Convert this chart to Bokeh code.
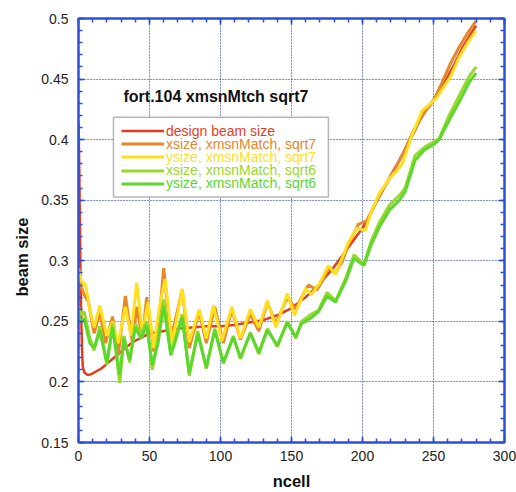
from bokeh.plotting import figure
from bokeh.models import (Range1d, LinearAxis, Legend, LegendItem, Label, BoxAnnotation, Title,
                          SingleIntervalTicker, Grid, NumeralTickFormatter, CustomJSTickFormatter)
from bokeh.embed import file_html
from bokeh.resources import INLINE

FONT = "Liberation Sans"
AX = "#2b4fd6"

# ---- data ----
design_n = [0, 0.5, 1, 1.5, 2, 2.5, 3, 4, 6, 8, 10, 13, 16, 20, 25, 30, 35, 40, 45, 50, 60, 70, 80,
            90, 100, 110, 120, 130, 140, 150, 160, 170, 180, 190, 200, 205, 210, 215, 220, 225, 230,
            235, 240, 245, 250, 255, 260, 265, 270, 275, 280]
design_v = [0.415, 0.38, 0.33, 0.28, 0.25, 0.226, 0.213, 0.208, 0.206, 0.206, 0.207, 0.209, 0.211,
            0.215, 0.22, 0.225, 0.23, 0.234, 0.237, 0.24, 0.242, 0.244, 0.245, 0.246, 0.246, 0.247,
            0.249, 0.251, 0.255, 0.261, 0.27, 0.281, 0.295, 0.311, 0.327, 0.337, 0.349, 0.36, 0.371,
            0.381, 0.392, 0.403, 0.415, 0.425, 0.433, 0.442, 0.452, 0.463, 0.475, 0.485, 0.494]

xs7_n = [0, 1, 2, 4, 7, 11, 15, 19, 24, 28, 33, 38, 41, 45, 48, 53, 56, 60, 65, 68, 73, 78, 85, 90,
         96, 102, 108, 114, 121, 127, 133, 139, 147, 153, 158, 162, 168, 172, 176, 181, 186, 190,
         197, 203, 210, 216, 222, 228, 235, 242, 250, 256, 262, 268, 274, 280]
xs7_v = [0.29, 0.285, 0.278, 0.272, 0.266, 0.24, 0.258, 0.232, 0.254, 0.222, 0.271, 0.232, 0.262,
         0.236, 0.27, 0.225, 0.24, 0.294, 0.236, 0.25, 0.276, 0.228, 0.258, 0.232, 0.262, 0.232,
         0.26, 0.235, 0.256, 0.242, 0.266, 0.248, 0.27, 0.26, 0.272, 0.28, 0.276, 0.284, 0.294,
         0.29, 0.3, 0.313, 0.33, 0.333, 0.35, 0.362, 0.374, 0.387, 0.405, 0.42, 0.432, 0.447,
         0.463, 0.476, 0.488, 0.498]

ys7_n = [0, 2, 5, 8, 11, 15, 20, 24, 28, 33, 37, 41, 45, 49, 53, 57, 61, 66, 73, 78, 85, 90, 95,
         101, 108, 114, 121, 127, 133, 139, 147, 152, 160, 164, 170, 176, 181, 190, 196, 202, 206,
         212, 219, 224, 228, 235, 242, 248, 252, 258, 262, 268, 274, 280]
ys7_v = [0.294, 0.283, 0.28, 0.26, 0.245, 0.263, 0.238, 0.25, 0.232, 0.262, 0.238, 0.282, 0.24,
         0.266, 0.228, 0.262, 0.285, 0.232, 0.277, 0.233, 0.26, 0.236, 0.263, 0.234, 0.262, 0.236,
         0.26, 0.245, 0.267, 0.245, 0.273, 0.255, 0.277, 0.272, 0.282, 0.296, 0.289, 0.315, 0.327,
         0.325, 0.34, 0.356, 0.368, 0.374, 0.38, 0.404, 0.424, 0.43, 0.434, 0.445, 0.452, 0.468,
         0.48, 0.49]

xs6_n = [0, 2, 4, 8, 11, 15, 20, 24, 29, 32, 36, 40, 44, 48, 52, 56, 60, 65, 68, 73, 78, 84, 90,
         96, 102, 109, 114, 121, 127, 133, 140, 147, 153, 157, 164, 169, 175, 181, 188, 194, 201,
         206, 212, 219, 226, 230, 237, 244, 250, 254, 261, 268, 275, 280]
xs6_v = [0.262, 0.255, 0.258, 0.236, 0.226, 0.246, 0.214, 0.248, 0.199, 0.238, 0.216, 0.248, 0.24,
         0.25, 0.21, 0.235, 0.268, 0.224, 0.235, 0.256, 0.205, 0.242, 0.211, 0.244, 0.215, 0.238,
         0.219, 0.241, 0.223, 0.244, 0.229, 0.25, 0.236, 0.25, 0.256, 0.259, 0.274, 0.267, 0.285,
         0.305, 0.297, 0.316, 0.332, 0.346, 0.354, 0.36, 0.387, 0.394, 0.398, 0.401, 0.42, 0.436,
         0.452, 0.46]

ys6_n = [0, 2, 4, 8, 11, 15, 20, 24, 29, 32, 36, 40, 44, 48, 52, 56, 60, 65, 68, 73, 78, 84, 90,
         96, 102, 109, 114, 121, 127, 133, 140, 147, 153, 157, 164, 169, 175, 181, 188, 194, 201,
         206, 212, 219, 226, 230, 237, 244, 250, 254, 261, 268, 275, 280]
ys6_v = [0.255, 0.25, 0.252, 0.232, 0.228, 0.242, 0.216, 0.245, 0.206, 0.236, 0.218, 0.245, 0.236,
         0.247, 0.214, 0.232, 0.263, 0.222, 0.233, 0.253, 0.207, 0.24, 0.212, 0.243, 0.216, 0.237,
         0.22, 0.24, 0.224, 0.243, 0.23, 0.249, 0.237, 0.248, 0.253, 0.258, 0.271, 0.266, 0.283,
         0.302, 0.296, 0.313, 0.328, 0.342, 0.35, 0.357, 0.383, 0.392, 0.396, 0.4, 0.416, 0.431,
         0.447, 0.455]

series_labels = ["design beam size", "xsize, xmsnMatch, sqrt7", "ysize, xmsnMatch, sqrt7",
                 "xsize, xmsnMatch, sqrt6", "ysize, xmsnMatch, sqrt6"]
series_colors = ["#e63c1e", "#e8862a", "#ffe01e", "#9ad82c", "#5cd82c"]
series_widths = [2.5, 3, 3, 3, 3]
series_data = [(design_n, design_v), (xs7_n, xs7_v), (ys7_n, ys7_v), (xs6_n, xs6_v), (ys6_n, ys6_v)]

x_ticks_interval = 50
y_ticks_interval = 0.05

# ---- figure ----
p = figure(width=516, height=492, x_range=Range1d(0, 300), y_range=Range1d(0.15, 0.5),
           output_backend="svg", toolbar_location=None,
           x_axis_location=None, y_axis_location=None,
           min_border_left=78, min_border_right=12, min_border_top=18, min_border_bottom=49)
p.background_fill_color = "white"
p.border_fill_color = "white"
p.outline_line_color = AX
p.outline_line_width = 2

xt = SingleIntervalTicker(interval=x_ticks_interval, num_minor_ticks=5)
yt = SingleIntervalTicker(interval=y_ticks_interval, num_minor_ticks=5)
blank = CustomJSTickFormatter(code="return ''")


def style_axis(ax, labels=True):
    ax.axis_line_color = AX
    ax.axis_line_width = 2
    ax.major_tick_line_color = AX
    ax.minor_tick_line_color = AX
    ax.major_tick_line_width = 1.5
    ax.minor_tick_line_width = 1.5
    ax.major_tick_in = 6
    ax.major_tick_out = 0
    ax.minor_tick_in = 4
    ax.minor_tick_out = 0
    ax.major_label_text_font = FONT
    ax.major_label_text_font_size = "14px"
    ax.major_label_text_color = "#222222"
    if not labels:
        ax.major_label_standoff = 0


bottom = LinearAxis(ticker=xt)
style_axis(bottom)
bottom.major_label_standoff = 8
bottom.axis_label = "ncell"
bottom.axis_label_text_font = FONT
bottom.axis_label_text_font_style = "bold"
bottom.axis_label_text_font_size = "16.5px"
bottom.axis_label_text_color = "#111111"
bottom.axis_label_standoff = 8
p.add_layout(bottom, "below")

left = LinearAxis(ticker=yt, formatter=NumeralTickFormatter(format="0.0[0]"))
style_axis(left)
left.major_label_standoff = 10
p.add_layout(left, "left")

top = LinearAxis(ticker=xt, formatter=blank)
style_axis(top, labels=False)
p.add_layout(top, "above")

right = LinearAxis(ticker=yt, formatter=blank)
style_axis(right, labels=False)
p.add_layout(right, "right")

# y axis title, placed lower than centre as in the reference
ylab = Title(text="beam size", align="left", offset=146, standoff=16, text_font=FONT,
             text_font_size="16.5px", text_font_style="bold", text_color="#111111")
p.add_layout(ylab, "left")

for dim, tk in ((0, xt), (1, yt)):
    g = Grid(dimension=dim, ticker=tk)
    g.grid_line_color = "#2244dd"
    g.grid_line_width = 1
    g.grid_line_dash = "1 2"
    p.add_layout(g, "center")

renderers = []
for (n, v), c, w in zip(series_data, series_colors, series_widths):
    r = p.line(n, v, line_color=c, line_width=w)
    renderers.append(r)

# title inside plot
p.add_layout(Label(x=31.7, y=0.4357, text="fort.104 xmsnMtch sqrt7", text_font=FONT,
                   text_font_size="16px", text_font_style="bold", text_color="#111111",
                   text_align="left", text_baseline="middle"))

# legend box
p.add_layout(BoxAnnotation(left=24.6, right=176, top=0.4185, bottom=0.3526,
                           fill_color="white", fill_alpha=1, line_color="#111111",
                           line_width=1.5, level="annotation"))

for i, (lab, c, r) in enumerate(zip(series_labels, series_colors, renderers)):
    lg = Legend(items=[LegendItem(label=lab, renderers=[r])],
                location=(43, 303.3 - 13.1 * i))
    lg.label_text_color = c
    lg.label_text_font = FONT
    lg.label_text_font_size = "14px"
    lg.glyph_width = 43
    lg.glyph_height = 13
    lg.label_height = 13
    lg.label_standoff = 2
    lg.padding = 0
    lg.margin = 0
    lg.spacing = 0
    lg.border_line_color = None
    lg.background_fill_alpha = 0
    p.add_layout(lg, "center")

open("out.html", "w").write(file_html(p, INLINE))
